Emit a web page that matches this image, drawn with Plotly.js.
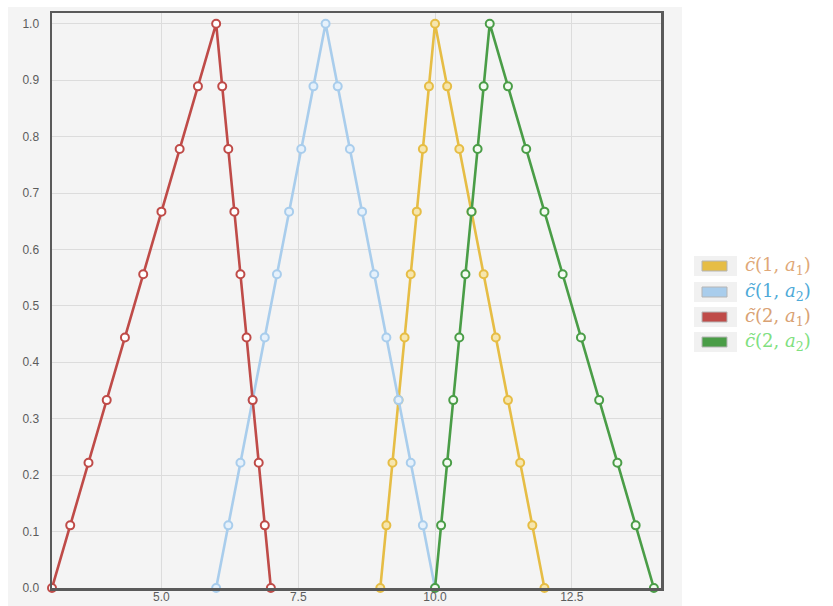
<!DOCTYPE html>
<html>
<head>
<meta charset="utf-8">
<script src="https://cdn.plot.ly/plotly-3.0.1.min.js"></script>
<style>
  html, body { margin: 0; padding: 0; background: #ffffff; }
  #chart { width: 833px; height: 606px; }
</style>
</head>
<body>
<div id="chart"></div>
<script>
// Membership levels (alpha-cuts) shared by every triangular fuzzy number
const alphaLevels = [0, 0.111, 0.222, 0.333, 0.444, 0.556, 0.667, 0.778, 0.889, 1.0,
                     0.889, 0.778, 0.667, 0.556, 0.444, 0.333, 0.222, 0.111, 0];

// x positions for each fuzzy number along its rising and falling side
const c1a1X = [9, 9.111, 9.222, 9.333, 9.444, 9.556, 9.667, 9.778, 9.889, 10,
               10.222, 10.444, 10.667, 10.889, 11.111, 11.333, 11.556, 11.778, 12];
const c1a2X = [6, 6.222, 6.444, 6.667, 6.889, 7.111, 7.333, 7.556, 7.778, 8,
               8.222, 8.444, 8.667, 8.889, 9.111, 9.333, 9.556, 9.778, 10];
const c2a1X = [3, 3.333, 3.667, 4, 4.333, 4.667, 5, 5.333, 5.667, 6,
               6.111, 6.222, 6.333, 6.444, 6.556, 6.667, 6.778, 6.889, 7];
const c2a2X = [10, 10.111, 10.222, 10.333, 10.444, 10.556, 10.667, 10.778, 10.889, 11,
               11.333, 11.667, 12, 12.333, 12.667, 13, 13.333, 13.667, 14];

const seriesLabels = [
  '<i>c̃</i>(1, <i>a</i><sub>1</sub>)',
  '<i>c̃</i>(1, <i>a</i><sub>2</sub>)',
  '<i>c̃</i>(2, <i>a</i><sub>1</sub>)',
  '<i>c̃</i>(2, <i>a</i><sub>2</sub>)'
];

const xTickVals = [5.0, 7.5, 10.0, 12.5];
const yTickVals = [0, 0.1, 0.2, 0.3, 0.4, 0.5, 0.6, 0.7, 0.8, 0.9, 1.0];

// Styles
const lineColors = ['#e6bd45', '#a9cdec', '#bf4b48', '#4a9d47'];
const markerFills = ['#f6e6ae', '#e6f1fb', '#ffffff', '#f4fbf2'];
const labelColors = ['#e0a878', '#4eaad8', '#d9a274', '#80e080'];

const xs = [c1a1X, c1a2X, c2a1X, c2a2X];

const traces = xs.map((x, i) => ({
  type: 'scatter',
  mode: 'lines+markers',
  x: x,
  y: alphaLevels,
  name: seriesLabels[i],
  showlegend: false,
  cliponaxis: false,
  line: { color: lineColors[i], width: 2.6 },
  marker: {
    symbol: 'circle',
    size: 8,
    color: markerFills[i],
    line: { color: lineColors[i], width: 2 }
  },
  hoverinfo: 'x+y'
}));

// Pixel geometry of the plot area, used to place the outside decorations
const W = 833, H = 606;
const m = { l: 52, r: 172, t: 13, b: 18 };
const pw = W - m.l - m.r, ph = H - m.t - m.b;
const px = v => (v - m.l) / pw;
const py = v => (H - m.b - v) / ph;

const shapes = [
  // light grey panel behind plot and tick labels
  { type: 'rect', xref: 'paper', yref: 'paper', layer: 'below',
    x0: px(8), x1: px(682), y0: py(606), y1: py(7),
    fillcolor: '#f4f4f4', line: { width: 0 } }
];
const annotations = [];

// legend: swatch boxes and labels
const rowY = [266, 292, 317, 342];
rowY.forEach((yc, i) => {
  shapes.push({ type: 'rect', xref: 'paper', yref: 'paper',
    x0: px(694), x1: px(737), y0: py(yc + 10), y1: py(yc - 10),
    fillcolor: '#f1f1f1', line: { width: 0 } });
  shapes.push({ type: 'rect', xref: 'paper', yref: 'paper',
    x0: px(702), x1: px(727), y0: py(yc + 5), y1: py(yc - 5),
    fillcolor: lineColors[i], line: { color: '#b5b5b5', width: 1 } });
  annotations.push({
    xref: 'paper', yref: 'paper', x: px(743), y: py(yc),
    xanchor: 'left', yanchor: 'middle', showarrow: false,
    text: seriesLabels[i],
    font: { family: 'DejaVu Serif, Liberation Serif, serif', size: 18, color: labelColors[i] }
  });
});

const tickFont = { family: 'Liberation Sans, Arial, sans-serif', size: 12, color: '#5c5c5c' };

const layout = {
  width: W, height: H,
  margin: m,
  paper_bgcolor: '#ffffff',
  plot_bgcolor: '#f4f4f4',
  showlegend: false,
  xaxis: {
    type: 'linear',
    range: [3, 14.13],
    tickvals: xTickVals,
    tickformat: '.1f',
    showgrid: true, gridcolor: '#dcdcdc', gridwidth: 1,
    zeroline: false,
    showline: true, linecolor: '#5a5a5a', linewidth: 2.5, mirror: true,
    ticks: '', ticklabelstandoff: -4,
    tickfont: tickFont
  },
  yaxis: {
    type: 'linear',
    range: [0, 1.019],
    tickvals: yTickVals,
    tickformat: '.1f',
    showgrid: true, gridcolor: '#dcdcdc', gridwidth: 1,
    zeroline: false,
    showline: true, linecolor: '#5a5a5a', linewidth: 2.5, mirror: true,
    ticks: '', ticklabelstandoff: 8,
    tickfont: tickFont
  },
  shapes: shapes,
  annotations: annotations
};

Plotly.newPlot('chart', traces, layout, { displayModeBar: false, staticPlot: true });
</script>
</body>
</html>
